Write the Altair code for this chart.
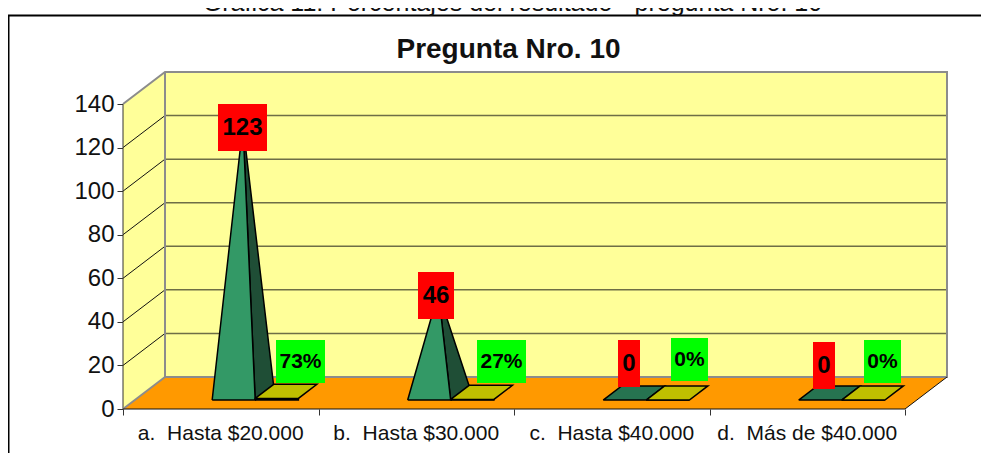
import altair as alt
import pandas as pd

CATEGORIES = ["a.\u00a0 Hasta $20.000", "b.\u00a0 Hasta $30.000", "c.\u00a0 Hasta $40.000", "d.\u00a0 Más de $40.000"]
COUNTS = [123, 46, 0, 0]
PERCENTS = [73, 27, 0, 0]
Y_TICKS = [0, 20, 40, 60, 80, 100, 120, 140]
TITLE = "Pregunta Nro. 10"
CAPTION = "Gráfica 11: Porcentajes del resultado - pregunta Nro. 10"

W, H = 973, 445
X0, UX = 115.0, 195.5      # pixel of category 0, pixels per category
Y0, UY = 401.0, 305 / 140  # pixel of value 0, pixels per value unit
DX, DY = 42.0, 32.0        # pixel shift of full depth
NC = len(CATEGORIES)

xs = alt.Scale(domain=[-X0 / UX, (W - X0) / UX], range=[0, W], nice=False, zero=False)
ys = alt.Scale(domain=[(Y0 - H) / UY, Y0 / UY], range=[H, 0], nice=False, zero=False)
XAX = alt.Axis(orient="bottom", offset=-(H - Y0), values=list(range(NC + 1)), domain=False, grid=False,
               title=None, labels=False, tickColor="#333333", tickSize=6)
YAX = alt.Axis(orient="left", offset=-X0, values=Y_TICKS, domain=False, grid=False, title=None,
               tickColor="#333333", tickSize=6, labelFont="Liberation Sans", labelFontSize=24,
               labelColor="#111111", labelPadding=3, labelOverlap=False, labelBound=False, labelFlush=False)
X = lambda f: alt.X(f, scale=xs, axis=XAX)
Y = lambda f: alt.Y(f, scale=ys, axis=YAX)


def proj(cat, depth, val):
    return cat + depth * DX / UX, val + depth * DY / UY


def from_px(px, py):
    """Page pixel to data units."""
    return (px - 8 - X0) / UX, (Y0 - (py - 8)) / UY


def poly(points, fill=None, stroke=None, width=1.0):
    rows = []
    for i, (c, d, v) in enumerate(points):
        x, y = proj(c, d, v)
        rows.append({"x": x, "y": y, "i": i})
    kw = {"strokeWidth": width, "stroke": stroke if stroke else "transparent"}
    if fill:
        kw["fill"] = fill
    return alt.Chart(pd.DataFrame(rows)).mark_line(clip=False, **kw).encode(
        x=X("x:Q"), y=Y("y:Q"), order="i:Q",
    )


YMAX = Y_TICKS[-1]
WALL, FLOOR = "#FFFF99", "#FF9900"
GRAY = "#8C8C8C"

layers = []
# walls and floor
layers.append(poly([(0, 1, 0), (NC, 1, 0), (NC, 1, YMAX), (0, 1, YMAX), (0, 1, 0)], fill=WALL))
layers.append(poly([(0, 0, 0), (0, 1, 0), (0, 1, YMAX), (0, 0, YMAX), (0, 0, 0)], fill=WALL))
layers.append(poly([(0, 0, 0), (NC, 0, 0), (NC, 1, 0), (0, 1, 0), (0, 0, 0)], fill=FLOOR))
# gridlines
for t in Y_TICKS[1:-1]:
    layers.append(poly([(0, 1, t), (NC, 1, t)], stroke="#6E6E46", width=1.5))
    layers.append(poly([(0, 0, t), (0, 1, t)], stroke="#111111", width=1))
# wall edges
layers.append(poly([(0, 0, 0), (0, 0, YMAX)], stroke="#333333", width=1))
layers.append(poly([(0, 0, YMAX), (0, 1, YMAX), (NC, 1, YMAX), (NC, 1, 0), (0, 1, 0), (0, 1, YMAX)], stroke=GRAY, width=2))
layers.append(poly([(0, 0, 0), (0, 1, 0)], stroke=GRAY, width=2))
layers.append(poly([(0, 0, 0), (NC, 0, 0), (NC, 1, 0)], stroke="#111111", width=1))

# bars
D0, D1 = 0.28, 0.72
B0, B1, B2 = 0.396, 0.616, 0.837
for k in range(NC):
    a, b, c = k + B0, k + B1, k + B2
    count, pct = COUNTS[k], PERCENTS[k] / 100
    if count > 0:
        apex = ((a + b) / 2, (D0 + D1) / 2, count)
        layers.append(poly([(b, D0, 0), (b, D1, 0), apex, (b, D0, 0)], fill="#1F4E36", stroke="black", width=1.5))
        layers.append(poly([(a, D0, 0), (b, D0, 0), apex, (a, D0, 0)], fill="#339966", stroke="black", width=1.5))
    else:
        layers.append(poly([(a, D0, 0), (b, D0, 0), (b, D1, 0), (a, D1, 0), (a, D0, 0)], fill="#267350", stroke="black", width=1.5))
    layers.append(poly([(b, D0, 0), (c, D0, 0), (c, D0, pct), (b, D0, pct), (b, D0, 0)], fill="black", stroke="black", width=1.5))
    layers.append(poly([(b, D0, pct), (c, D0, pct), (c, D1, pct), (b, D1, pct), (b, D0, pct)], fill="#BFBF00", stroke="black", width=1.5))

# data label boxes: page pixel extents (x0, x1, y0, y1)
RED_BOXES = [(218, 267, 104, 151), (418, 454, 272, 319), (618, 640, 340, 387), (813, 835, 342, 389)]
GREEN_BOXES = [(276, 325, 340, 383), (477, 526, 340, 383), (671, 708, 338, 381), (864, 901, 340, 383)]


def boxes(box_list, labels, color, size):
    rows = []
    for (x0, x1, y0, y1), lab in zip(box_list, labels):
        ax, ay = from_px(x0, y0)
        bx, by = from_px(x1, y1)
        mx, my = from_px((x0 + x1) / 2, (y0 + y1) / 2)
        rows.append(dict(x=ax, x2=bx, y=ay, y2=by, mx=mx, my=my, label=lab))
    df = pd.DataFrame(rows)
    r = alt.Chart(df).mark_rect(color=color, clip=False).encode(
        x=X("x:Q"), x2="x2:Q", y=Y("y:Q"), y2="y2:Q",
    )
    t = alt.Chart(df).mark_text(font="Liberation Sans", fontWeight="bold", fontSize=size, color="black", baseline="middle").encode(
        x=X("mx:Q"), y=Y("my:Q"), text="label:N",
    )
    return [r, t]


layers += boxes(RED_BOXES, [str(v) for v in COUNTS], "#FF0000", 24)
layers += boxes(GREEN_BOXES, [f"{v}%" for v in PERCENTS], "#00FF00", 21)

cat_df = pd.DataFrame({"c": [i + 0.5 for i in range(NC)], "label": CATEGORIES})
layers.append(
    alt.Chart(cat_df).mark_text(font="Liberation Sans", fontSize=21, color="#111111", baseline="middle").encode(
        x=X("c:Q"), y=alt.value(Y0 + 24.5), text="label:N",
    )
)

# frame, title, caption
fx, fy = from_px(8.5, 15.5)
_, fy_bottom = from_px(0, 453)
fx_right, _ = from_px(8 + W, 0)
layers.append(
    alt.Chart(pd.DataFrame({"x": [fx, fx, fx_right], "y": [fy_bottom, fy, fy], "i": [0, 1, 2]})).mark_line(
        color="black", strokeWidth=2, clip=False).encode(x=X("x:Q"), y=Y("y:Q"), order="i:Q")
)
layers.append(
    alt.Chart(pd.DataFrame({"t": [TITLE]})).mark_text(font="Liberation Sans", fontWeight="bold", fontSize=28, color="#111111", baseline="alphabetic").encode(
        x=alt.value(500.5), y=alt.value(50), text="t:N")
)
layers.append(
    alt.Chart(pd.DataFrame({"t": [CAPTION]})).mark_text(font="Liberation Sans", fontSize=25, color="#111111", baseline="alphabetic").encode(
        x=alt.value(504.5), y=alt.value(3), text="t:N")
)

chart = alt.layer(*layers).properties(
    width=W, height=H, padding=0, autosize=alt.AutoSizeParams(type="none"), background="white",
).configure_view(stroke=None)

chart.save("out.html", embed_options={"renderer": "svg", "actions": False})
